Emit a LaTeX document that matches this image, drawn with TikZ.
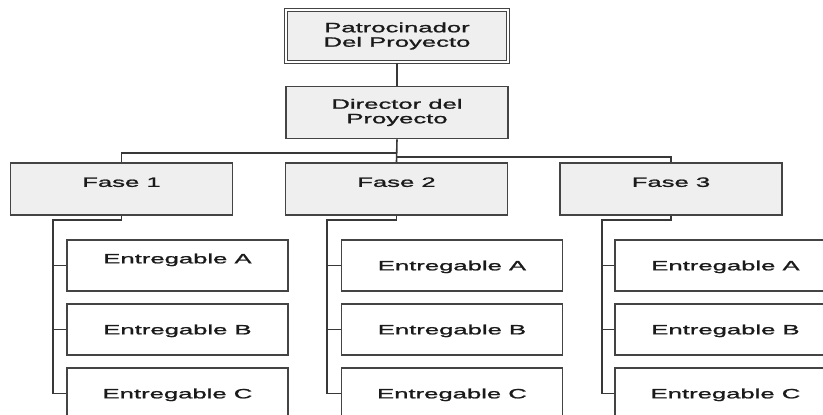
\documentclass[tikz,border=0pt]{standalone}
\usepackage{fontspec}
\newfontfamily\wide[FakeStretch=1.9,FakeBold=1.4]{Liberation Sans}
\begin{document}
\begin{tikzpicture}[x=1pt,y=-1pt,
  box/.style={draw=boxline, line width=1.6pt, fill=boxfill, inner sep=0pt,
    font=\wide\fontsize{13.5}{14.5}\selectfont, text=txt, align=center},
  topbox/.style={box, minimum width=222pt, minimum height=52pt},
  fasebox/.style={box, minimum width=222pt, minimum height=52pt, text height=9.7pt, text depth=14pt},
  entbox/.style={box, fill=white, minimum width=221pt, minimum height=51pt, text height=9.7pt, text depth=0pt},
  entup/.style={text depth=14pt},
  conn/.style={draw=connline, line width=1.6pt}]
\definecolor{boxline}{HTML}{444444}
\definecolor{connline}{HTML}{383838}
\definecolor{boxfill}{HTML}{EFEFEF}
\definecolor{txt}{HTML}{1A1A1A}
\useasboundingbox (0,0) rectangle (823,415);
\clip (0,0) rectangle (823,415);
\fill[white] (0,0) rectangle (823,415);

% top boxes
\node[topbox, double=white, double distance=2.5pt, line width=1.2pt] (P) at (397,36) {Patrocinador\\Del Proyecto};
\node[topbox] (D) at (397,112.5) {Director del\\Proyecto};

% phases
\node[fasebox] (F1) at (121.5,189) {Fase 1};
\node[fasebox] (F2) at (396.5,189) {Fase 2};
\node[fasebox] (F3) at (671,189) {Fase 3};

% deliverables
\node[entbox, entup] (E1A) at (177.5,265.5) {Entregable A};
\node[entbox] (E1B) at (177.5,329.5) {Entregable B};
\node[entbox] (E1C) at (177.5,393.5) {Entregable C};
\node[entbox] (E2A) at (452,265.5) {Entregable A};
\node[entbox] (E2B) at (452,329.5) {Entregable B};
\node[entbox] (E2C) at (452,393.5) {Entregable C};
\node[entbox] (E3A) at (725.5,265.5) {Entregable A};
\node[entbox] (E3B) at (725.5,329.5) {Entregable B};
\node[entbox] (E3C) at (725.5,393.5) {Entregable C};

% connectors
\coordinate (jl) at (397,153);
\coordinate (jr) at (397,157);
\draw[conn] (P) -- (D);
\draw[conn] (D.south) -- (F2.north);
\draw[conn] (jl) -| (F1.north);
\draw[conn] (jr) -| (F3.north);

\coordinate (b1) at (53,220);
\coordinate (b2) at (327,220);
\coordinate (b3) at (602,220);
\draw[conn] (F1.south) |- (b1) |- (E1C.west);
\draw[conn] (b1 |- E1A.west) -- (E1A.west);
\draw[conn] (b1 |- E1B.west) -- (E1B.west);
\draw[conn] (F2.south) |- (b2) |- (E2C.west);
\draw[conn] (b2 |- E2A.west) -- (E2A.west);
\draw[conn] (b2 |- E2B.west) -- (E2B.west);
\draw[conn] (F3.south) |- (b3) |- (E3C.west);
\draw[conn] (b3 |- E3A.west) -- (E3A.west);
\draw[conn] (b3 |- E3B.west) -- (E3B.west);
\end{tikzpicture}
\end{document}
